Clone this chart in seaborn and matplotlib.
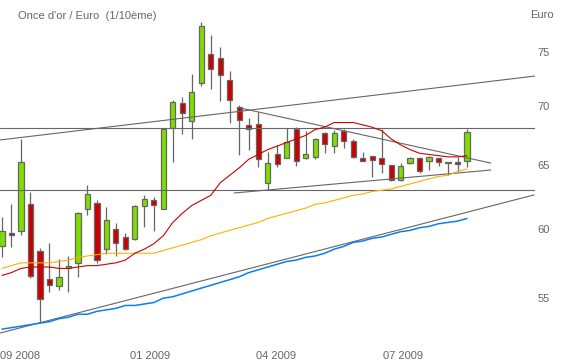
import numpy as np
import pandas as pd
import seaborn as sns
from matplotlib import pyplot as plt
from matplotlib.ticker import NullLocator

# weekly candles, gold ounce in euro (1/10)
opens = [58.74, 59.71, 59.86, 61.93, 58.37, 56.36, 55.86, 57.14, 57.50, 61.54,
         62.01, 58.52, 60.02, 59.41, 59.26, 61.77, 62.24, 61.54, 68.13, 70.31,
         68.73, 72.10, 74.78, 74.41, 72.37, 69.96, 68.39, 68.47, 63.58, 65.94,
         65.60, 68.04, 65.60, 65.69, 67.70, 66.60, 67.87, 67.02, 65.60, 65.77,
         65.60, 65.03, 63.82, 65.19, 65.60, 65.36, 65.60, 65.27, 65.27, 65.36]
highs = [60.93, 61.93, 67.19, 62.86, 58.60, 58.97, 57.79, 58.01, 61.30, 63.42,
         62.24, 61.70, 60.47, 59.71, 61.85, 62.63, 62.47, 68.10, 70.57, 70.85,
         72.92, 77.84, 76.58, 75.44, 73.20, 70.13, 68.99, 69.52, 66.10, 66.69,
         68.13, 68.21, 67.87, 67.28, 67.79, 67.96, 68.04, 67.19, 66.10, 65.77,
         68.04, 65.03, 65.19, 65.69, 65.69, 65.77, 65.60, 65.27, 65.69, 68.04]
lows = [57.93, 58.67, 59.56, 56.43, 53.38, 55.44, 55.58, 55.44, 56.50, 61.08,
        57.50, 58.16, 58.01, 58.45, 59.19, 60.17, 59.86, 61.50, 65.27, 67.62,
        67.19, 71.83, 71.56, 70.48, 68.56, 65.85, 66.27, 64.86, 63.02, 64.86,
        65.60, 64.95, 65.52, 65.52, 66.02, 66.02, 66.44, 65.60, 65.36, 64.06,
        64.38, 63.74, 63.74, 65.11, 64.38, 64.62, 64.95, 64.22, 64.54, 64.86]
closes = [59.86, 59.56, 65.27, 56.57, 54.96, 55.93, 56.50, 57.28, 61.23, 62.71,
          57.72, 60.70, 58.97, 58.52, 61.77, 62.32, 61.85, 68.04, 70.40, 69.43,
          71.30, 77.45, 73.38, 72.83, 70.57, 68.82, 68.04, 65.52, 65.19, 65.11,
          66.94, 65.36, 65.94, 67.19, 66.77, 67.70, 67.02, 65.69, 65.36, 65.44,
          65.11, 63.82, 64.95, 65.60, 64.54, 65.69, 65.27, 65.19, 65.11, 67.79]

# moving averages
ma_red = [56.6, 56.8, 57.1, 57.2, 57.2, 57.2, 57.1, 57.1, 57.2, 57.3,
          57.3, 57.4, 57.5, 57.7, 58.2, 58.5, 58.9, 59.5, 60.5, 61.2,
          61.8, 62.2, 62.6, 63.6, 64.2, 64.8, 65.5, 65.9, 66.3, 66.6,
          66.9, 67.2, 67.5, 68.0, 68.2, 68.6, 68.6, 68.6, 68.4, 68.2,
          67.9, 67.2, 66.7, 66.3, 66.0, 65.9, 65.8, 65.7, 65.7, 65.8]
ma_orange = [57.1, 57.3, 57.5, 57.5, 57.5, 57.5, 57.6, 57.7, 57.9, 58.0,
             58.1, 58.2, 58.2, 58.2, 58.2, 58.2, 58.2, 58.4, 58.6, 58.8,
             59.0, 59.2, 59.5, 59.7, 59.9, 60.1, 60.3, 60.5, 60.8, 61.0,
             61.2, 61.4, 61.6, 61.9, 62.0, 62.2, 62.4, 62.6, 62.7, 62.9,
             63.0, 63.1, 63.3, 63.5, 63.7, 63.9, 64.1, 64.2, 64.5, 64.7]
ma_blue = [52.9, 53.0, 53.1, 53.2, 53.3, 53.4, 53.6, 53.7, 53.9, 53.9,
           54.1, 54.2, 54.3, 54.5, 54.5, 54.6, 54.7, 55.0, 55.1, 55.3,
           55.5, 55.7, 55.9, 56.1, 56.3, 56.5, 56.8, 57.0, 57.2, 57.4,
           57.6, 57.7, 57.9, 58.0, 58.2, 58.5, 58.7, 59.0, 59.1, 59.3,
           59.4, 59.6, 59.8, 59.9, 60.1, 60.2, 60.4, 60.5, 60.6, 60.8]

# drawn lines: ([x0, x1], [y0, y1]) in week / euro
resist_up = ([-0.21, 56.16], [67.11, 72.73])
support_up = ([-0.21, 56.06], [52.64, 62.63])
tri_top = ([25.08, 51.5], [69.87, 65.19])
tri_bot = ([24.45, 51.5], [62.78, 64.62])
levels = [68.13, 63.02]

tick_pos = [1.9, 15.6, 28.9, 42.25]
tick_labels = ['09 2008', '01 2009', '04 2009', '07 2009']
y_ticks = [55, 60, 65, 70, 75]

gray = '#666666'

df = pd.DataFrame({'week': np.arange(len(opens)), 'open': opens, 'high': highs,
                   'low': lows, 'close': closes})
up = df['close'] >= df['open']

sns.set_style('white')
plt.rcParams['font.family'] = ['Liberation Sans', 'DejaVu Sans']

fig = plt.figure(figsize=(5.74, 3.61), dpi=100)
ax = fig.add_axes([0, 24 / 361, 535 / 574, 337 / 361])
ax.set_yscale('log')

ax.vlines(df['week'], df['low'], df['high'], color=gray, lw=0.9, zorder=2)
ax.bar(df['week'], (df['close'] - df['open']).abs(),
       bottom=np.minimum(df['open'], df['close']), width=0.55,
       color=np.where(up, '#7fdd00', '#cc0000'), edgecolor=gray, linewidth=0.9, zorder=3)

for lv in levels:
    ax.plot([-0.21, 56.16], [lv, lv], color=gray, lw=0.8, zorder=4)
for xs, ys in [resist_up, support_up, tri_top, tri_bot]:
    ax.plot(xs, ys, color=gray, lw=0.8, zorder=4)

sns.lineplot(x=df['week'], y=ma_blue, color='#0a7ff0', lw=1.1, ax=ax, zorder=5)
sns.lineplot(x=df['week'], y=ma_orange, color='#ffb000', lw=0.8, ax=ax, zorder=5)
sns.lineplot(x=df['week'], y=ma_red, color='#cc0000', lw=0.8, ax=ax, zorder=5)

ax.set_xlim(-0.21, 56.16)
ax.set_ylim(52.38, 80.03)
ax.yaxis.tick_right()
ax.set_yticks(y_ticks)
ax.set_yticklabels([str(v) for v in y_ticks])
ax.yaxis.set_minor_locator(NullLocator())
ax.set_xticks(tick_pos)
ax.set_xticklabels(tick_labels)
ax.set_xlabel('')
ax.set_ylabel('')
ax.tick_params(length=0, labelsize=8, labelcolor=gray)
ax.tick_params(axis='y', pad=2)
ax.tick_params(axis='x', pad=10)
for s in ax.spines.values():
    s.set_visible(False)

fig.text(18 / 574, 1 - 16 / 361, "Once d'or / Euro  (1/10ème)", ha='left', va='center',
         fontsize=8, color=gray)
fig.text(542 / 574, 1 - 15 / 361, 'Euro', ha='center', va='center', fontsize=8, color=gray)

fig.savefig('out.png', dpi=100)
